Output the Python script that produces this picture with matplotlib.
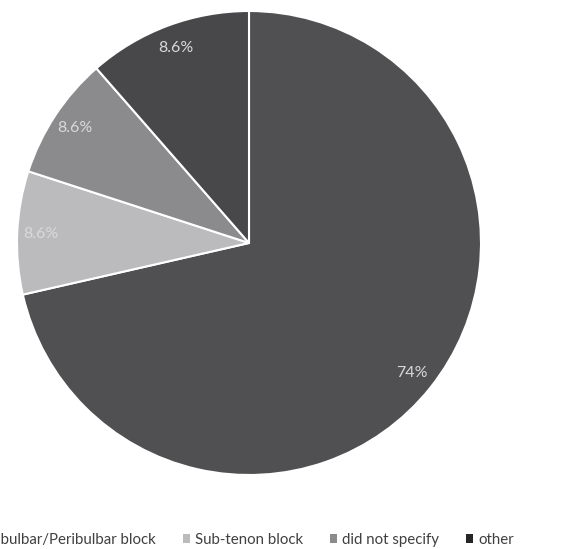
import matplotlib
matplotlib.use("Agg")
import matplotlib.pyplot as plt
from matplotlib.patches import Patch

# data
categories = ["Retrobulbar/Peribulbar block", "Sub-tenon block", "did not specify", "other"]
counts = [25, 3, 3, 4]
pct_labels = ["74%", "8.6%", "8.6%", "8.6%"]
colors = ["#505052", "#bbbbbe", "#8b8b8e", "#48484b"]
legend_colors = ["#505052", "#bbbbbe", "#8b8b8e", "#262626"]

plt.rcParams["font.family"] = ["Lato", "DejaVu Sans"]

fig = plt.figure(figsize=(5.65, 5.49), dpi=100)
ax = fig.add_axes([17 / 565, 74 / 549, 464 / 565, 464 / 549])

wedges, texts = ax.pie(counts, labels=pct_labels, colors=colors, startangle=90,
                       counterclock=False, labeldistance=0.9,
                       wedgeprops=dict(edgecolor="white", linewidth=1.5),
                       textprops=dict(color="#d9d9d9", fontsize=11.5))
for t in texts:
    t.set_horizontalalignment("center")
    t.set_verticalalignment("center")
ax.set_xlim(-1, 1)
ax.set_ylim(-1, 1)

# legend runs off the left edge, as in the reference
handles = [Patch(facecolor=c, edgecolor="none") for c in legend_colors]
fig.legend(handles, categories, loc="center right", bbox_to_anchor=(514 / 565, 9 / 549),
           ncol=4, frameon=False, fontsize=10.8, handlelength=0.5, handleheight=0.5,
           handletextpad=0.35, columnspacing=1.75, borderpad=0, borderaxespad=0,
           labelcolor="#404040")

fig.savefig("out.png", dpi=100)
